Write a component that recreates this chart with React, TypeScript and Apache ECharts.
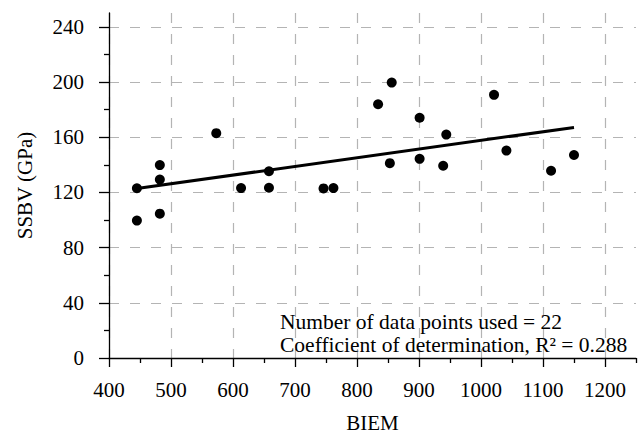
import React, { useEffect, useRef } from "react";
import * as echarts from "echarts";

const biem = [445, 445, 482, 482, 482, 573, 613, 658, 658, 746, 762, 834, 856, 853, 901, 901, 944, 939, 1021, 1041, 1113, 1150];
const ssbv = [123, 99.6, 139.8, 129.3, 104.6, 162.9, 123.1, 135.3, 123.4, 122.9, 123.1, 183.9, 199.6, 141.2, 174.1, 144.3, 161.9, 139.3, 190.7, 150.3, 135.7, 147.1];
const trendX = [445, 1150];
const trendY = [122.8, 167.1];
const xMajorTicks = [400, 500, 600, 700, 800, 900, 1000, 1100, 1200];
const xMinorTicks = [450, 550, 650, 750, 850, 950, 1050, 1150, 1250];
const yMajorTicks = [0, 40, 80, 120, 160, 200, 240];
const yMinorTicks = [20, 60, 100, 140, 180, 220];
const annotationLines = ["Number of data points used = 22", "Coefficient of determination, R\u00B2 = 0.288"];

const FONT = "Liberation Serif";
const FS = 21;

export default function App() {
  const ref = useRef<HTMLDivElement>(null);
  useEffect(() => {
    if (!ref.current) return;
    const chart = echarts.init(ref.current, undefined, { renderer: "svg" });
    const axisLine = { show: true, lineStyle: { color: "#000", width: 1.3 } };
    const split = { show: true, lineStyle: { color: "#b4b4b4", width: 1.2, type: [10, 11] as any } };
    const richBase = { fontFamily: FONT, fontSize: FS, color: "#000" };
    chart.setOption({
      animation: false,
      backgroundColor: "#fff",
      textStyle: { fontFamily: FONT, fontSize: FS, color: "#000" },
      grid: { left: 109, right: 6, top: 13, bottom: 75, containLabel: false },
      xAxis: [
        {
          type: "value",
          min: 400,
          max: 1250,
          interval: 100,
          name: "BIEM",
          nameLocation: "middle",
          nameGap: 54,
          nameTextStyle: richBase,
          axisLine,
          axisTick: { show: true, length: 9, customValues: xMajorTicks, lineStyle: { color: "#000", width: 1.3 } },
          axisLabel: {
            show: true,
            fontFamily: FONT,
            fontSize: FS,
            color: "#000",
            margin: 21,
            showMaxLabel: false,
            formatter: (v: number) => (xMajorTicks.indexOf(v) >= 0 ? "{a|" + String(v) + "}" : ""),
            rich: { a: richBase },
          },
          splitLine: split,
        },
        {
          type: "value",
          min: 400,
          max: 1250,
          position: "bottom",
          axisLine: { show: false },
          axisTick: { show: true, length: 5, customValues: xMinorTicks, lineStyle: { color: "#000", width: 1.3 } },
          axisLabel: { show: false },
          splitLine: { show: false },
        },
      ],
      yAxis: [
        {
          type: "value",
          min: 0,
          max: 250,
          interval: 40,
          name: "SSBV (GPa)",
          nameLocation: "middle",
          nameGap: 74,
          nameTextStyle: richBase,
          axisLine,
          axisTick: { show: true, length: 10, customValues: yMajorTicks, lineStyle: { color: "#000", width: 1.3 } },
          axisLabel: {
            show: true,
            fontFamily: FONT,
            fontSize: FS,
            color: "#000",
            margin: 25,
            showMaxLabel: false,
            formatter: (v: number) => (yMajorTicks.indexOf(v) >= 0 ? "{a|" + String(v) + "}" : ""),
            rich: { a: richBase },
          },
          splitLine: split,
        },
        {
          type: "value",
          min: 0,
          max: 250,
          position: "left",
          axisLine: { show: false },
          axisTick: { show: true, length: 5, customValues: yMinorTicks, lineStyle: { color: "#000", width: 1.3 } },
          axisLabel: { show: false },
          splitLine: { show: false },
        },
      ],
      series: [
        {
          type: "line",
          xAxisIndex: 0,
          yAxisIndex: 0,
          data: trendX.map((x, i) => [x, trendY[i]]),
          showSymbol: false,
          symbol: "none",
          lineStyle: { color: "#000", width: 3 },
          z: 3,
        },
        {
          type: "scatter",
          xAxisIndex: 0,
          yAxisIndex: 0,
          data: biem.map((x, i) => [x, ssbv[i]]),
          symbol: "circle",
          symbolSize: 10,
          itemStyle: { color: "#000", opacity: 1 },
          z: 4,
        },
      ],
      graphic: annotationLines.map((t, i) => ({
        type: "text",
        x: 280,
        y: 322 + i * 23,
        style: { text: t, fontFamily: FONT, fontSize: 21.5, fill: "#000", verticalAlign: "middle", align: "left" },
        z: 10,
      })),
    });
    return () => chart.dispose();
  }, []);
  return <div ref={ref} style={{ position: "fixed", left: 0, top: 0, width: 642, height: 438 }} />;
}
